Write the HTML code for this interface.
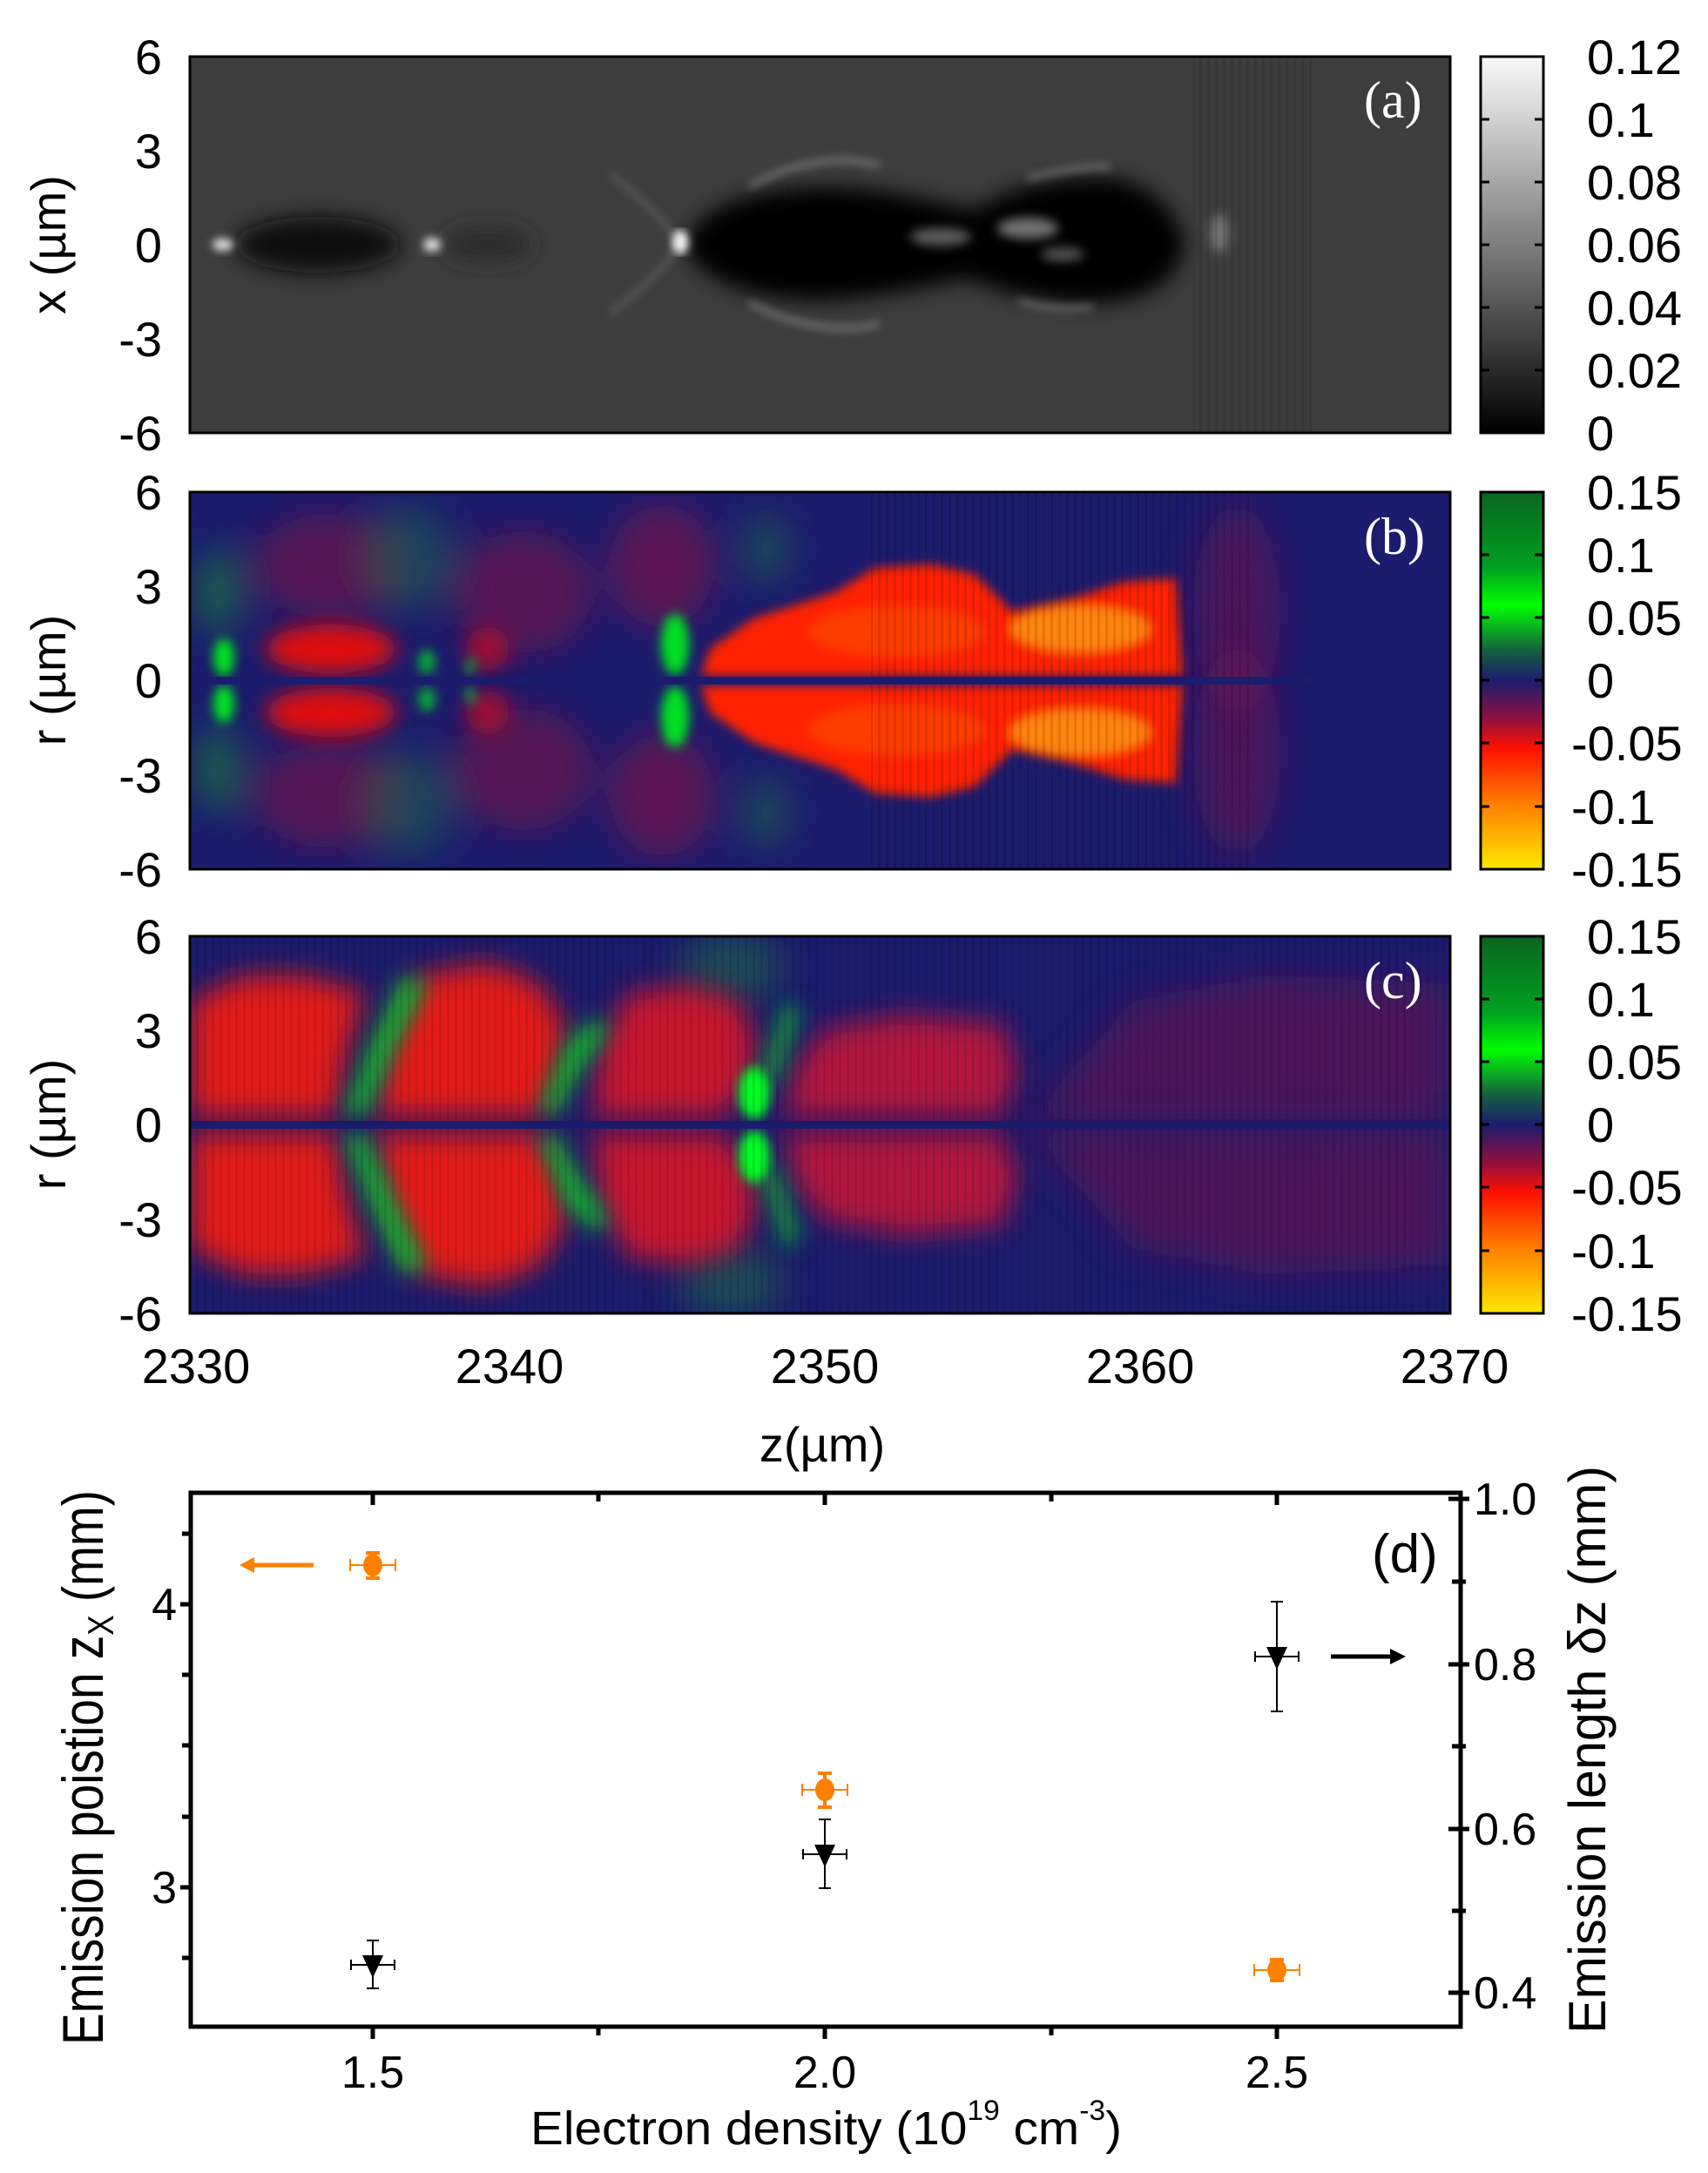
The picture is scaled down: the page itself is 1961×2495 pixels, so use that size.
<!DOCTYPE html>
<html><head><meta charset="utf-8"><style>
html,body{margin:0;padding:0;background:#fff;}
svg{display:block;}
text{font-family:"Liberation Sans",sans-serif;}
text.serif{font-family:"Liberation Serif",serif;}
</style></head><body>
<svg width="1961" height="2495" viewBox="0 0 1961 2495" xmlns="http://www.w3.org/2000/svg">
<defs>
  <filter id="b6" x="-20%" y="-20%" width="140%" height="140%"><feGaussianBlur stdDeviation="6"/></filter>
  <filter id="b12" x="-30%" y="-30%" width="160%" height="160%"><feGaussianBlur stdDeviation="12"/></filter>
  <filter id="b16" x="-30%" y="-30%" width="160%" height="160%"><feGaussianBlur stdDeviation="16"/></filter>
  <filter id="b20" x="-30%" y="-30%" width="160%" height="160%"><feGaussianBlur stdDeviation="20"/></filter>
  <filter id="b3"><feGaussianBlur stdDeviation="3"/></filter>
  <filter id="b5"><feGaussianBlur stdDeviation="5"/></filter>
  <clipPath id="ca"><rect x="218" y="65" width="1447" height="432"/></clipPath>
  <clipPath id="cb"><rect x="218" y="565" width="1447" height="433"/></clipPath>
  <clipPath id="cc"><rect x="218" y="1075" width="1447" height="433"/></clipPath>
  <linearGradient id="gg" x1="0" y1="0" x2="0" y2="1">
    <stop offset="0" stop-color="#fafafa"/><stop offset="1" stop-color="#000"/>
  </linearGradient>
  <linearGradient id="gc" x1="0" y1="0" x2="0" y2="1">
    <stop offset="0" stop-color="#0a6420"/>
    <stop offset="0.2" stop-color="#00a020"/>
    <stop offset="0.3" stop-color="#00ff00"/>
    <stop offset="0.42" stop-color="#156040"/>
    <stop offset="0.5" stop-color="#1c1c6e"/>
    <stop offset="0.6" stop-color="#901040"/>
    <stop offset="0.68" stop-color="#ff1000"/>
    <stop offset="0.83" stop-color="#ff8000"/>
    <stop offset="1" stop-color="#ffe800"/>
  </linearGradient>
  <pattern id="stripes" width="9" height="10" patternUnits="userSpaceOnUse">
    <rect x="0" y="0" width="3" height="10" fill="#000" opacity="0.18"/>
  </pattern>
</defs>

<!-- ============ Panel a ============ -->
<g clip-path="url(#ca)">
  <rect x="218" y="65" width="1447" height="432" fill="#3d3d3d"/>
  <g filter="url(#b12)">
    <ellipse cx="365" cy="281" rx="95" ry="32" fill="#101010"/>
    <ellipse cx="560" cy="281" rx="50" ry="18" fill="#2a2a2a"/>
    <path d="M785,281 C800,240 860,215 950,215 C1020,215 1080,235 1120,240 C1160,215 1220,200 1280,205 C1330,215 1355,250 1360,281 C1355,320 1320,345 1260,348 C1200,350 1150,335 1110,320 C1060,330 990,345 930,345 C860,342 800,320 785,281 Z" fill="#050505"/>
  </g>
  <g filter="url(#b6)" fill="#d0d0d0">
    <ellipse cx="1080" cy="272" rx="35" ry="10" opacity="0.45"/>
    <ellipse cx="1180" cy="262" rx="35" ry="12" opacity="0.55"/>
    <ellipse cx="1220" cy="292" rx="25" ry="8" opacity="0.4"/>
    <ellipse cx="1400" cy="268" rx="10" ry="22" opacity="0.4"/>
  </g>
  <g filter="url(#b5)" fill="#fff">
    <ellipse cx="256" cy="281" rx="12" ry="7" opacity="0.85"/>
    <ellipse cx="496" cy="281" rx="10" ry="8" opacity="0.85"/>
    <ellipse cx="781" cy="278" rx="9" ry="14"/>
  </g>
  <g fill="none" stroke="#bfbfbf" stroke-width="5" filter="url(#b5)" opacity="0.55">
    <path d="M860,215 C900,190 960,175 1010,190"/>
    <path d="M860,347 C900,370 960,385 1010,372"/>
    <path d="M1180,205 C1220,195 1250,190 1275,192"/>
    <path d="M1170,345 C1200,355 1230,355 1255,352"/>
    <path d="M700,200 C740,230 770,260 781,281 C770,300 740,330 700,360" opacity="0.5"/>
  </g>
  <rect x="1370" y="65" width="140" height="432" fill="url(#stripes)" opacity="0.5"/>
</g>
<rect x="218" y="65" width="1447" height="432" fill="none" stroke="#000" stroke-width="3"/>

<!-- ============ Panel b ============ -->
<g clip-path="url(#cb)">
  <rect x="218" y="565" width="1447" height="433" fill="#1c1c6e"/>
  <g id="bhalf">
    <g filter="url(#b20)">
      <ellipse cx="380" cy="650" rx="90" ry="60" fill="#7a1440" opacity="0.6"/>
      <ellipse cx="600" cy="680" rx="80" ry="70" fill="#7a1440" opacity="0.6"/>
      <ellipse cx="760" cy="650" rx="60" ry="70" fill="#881040" opacity="0.6"/>
      <ellipse cx="250" cy="680" rx="25" ry="50" fill="#1a7a3a" opacity="0.7"/>
      <ellipse cx="470" cy="640" rx="50" ry="60" fill="#1a6a4a" opacity="0.5"/>
      <ellipse cx="880" cy="630" rx="25" ry="40" fill="#1a6a4a" opacity="0.6"/>
      <ellipse cx="1420" cy="700" rx="50" ry="120" fill="#6a1450" opacity="0.6"/>
    </g>
    <g filter="url(#b12)">
      <ellipse cx="380" cy="745" rx="75" ry="28" fill="#e01010"/>
      <ellipse cx="560" cy="745" rx="25" ry="25" fill="#a01030"/>
    </g>
    <g filter="url(#b6)">
      <path d="M805,776 L815,745 L866,710 L959,680 L1005,652 L1070,648 L1120,660 L1162,702 L1237,685 L1292,668 L1350,664 L1358,776 Z" fill="#ff2200"/>
      <ellipse cx="1240" cy="722" rx="80" ry="26" fill="#ff8410"/>
      <ellipse cx="1030" cy="725" rx="100" ry="28" fill="#ff4a00" opacity="0.7"/>
    </g>
    <g filter="url(#b6)" fill="#00e020">
      <ellipse cx="257" cy="755" rx="12" ry="22"/>
      <ellipse cx="775" cy="740" rx="16" ry="35"/>
      <ellipse cx="490" cy="760" rx="10" ry="14" opacity="0.7"/>
      <ellipse cx="540" cy="765" rx="6" ry="10" opacity="0.6"/>
    </g>
  </g>
  <use href="#bhalf" transform="translate(0,1563) scale(1,-1)"/>
  <rect x="1000" y="565" width="440" height="433" fill="url(#stripes)" opacity="0.6"/>
  <rect x="218" y="777" width="1447" height="9" fill="#1c1c6e"/>
</g>
<rect x="218" y="565" width="1447" height="433" fill="none" stroke="#000" stroke-width="3"/>

<!-- ============ Panel c ============ -->
<g clip-path="url(#cc)">
  <rect x="218" y="1075" width="1447" height="433" fill="#1c1c6e"/>
  <g id="chalf">
    <g filter="url(#b20)">
      <path d="M1180,1285 L1300,1150 L1450,1120 L1665,1130 L1665,1285 Z" fill="#6a1450" opacity="0.6"/>
      <ellipse cx="840" cy="1110" rx="60" ry="40" fill="#1a6a4a" opacity="0.6"/>
    </g>
    <g filter="url(#b16)" opacity="0.88">
      <path d="M218,1150 L280,1120 L350,1120 L420,1140 L400,1200 L385,1282 L218,1282 Z" fill="#ff1a10"/>
      <path d="M480,1120 L560,1105 L620,1130 L650,1180 L640,1240 L620,1282 L430,1282 L445,1200 Z" fill="#ff1a10"/>
      <path d="M720,1140 L790,1130 L850,1150 L870,1200 L855,1250 L830,1282 L680,1282 L690,1200 Z" fill="#e01828"/>
      <path d="M950,1180 L1040,1165 L1150,1175 L1170,1230 L1150,1282 L900,1282 L915,1220 Z" fill="#c81838"/>
    </g>
    <g filter="url(#b12)" fill="#0cb030">
      <path d="M462,1120 L490,1130 L455,1200 L420,1280 L395,1280 L425,1200 Z"/>
      <path d="M680,1170 L700,1180 L660,1240 L640,1280 L620,1275 L650,1200 Z"/>
      <path d="M900,1150 L920,1160 L900,1220 L890,1250 L875,1230 Z" opacity="0.8"/>
    </g>
    <g filter="url(#b6)" fill="#00ff20">
      <ellipse cx="866" cy="1255" rx="18" ry="30"/>
    </g>
  </g>
  <use href="#chalf" transform="translate(0,2583) scale(1,-1)"/>
  <rect x="218" y="1075" width="1447" height="433" fill="url(#stripes)" opacity="0.5"/>
  <rect x="218" y="1287" width="1447" height="9" fill="#1c1c6e"/>
</g>
<rect x="218" y="1075" width="1447" height="433" fill="none" stroke="#000" stroke-width="3"/>

<!-- panel labels -->
<g font-size="60" fill="#fff">
  <text class="serif" x="1566" y="135">(a)</text>
  <text class="serif" x="1566" y="636">(b)</text>
  <text class="serif" x="1566" y="1146">(c)</text>
</g>

<!-- colorbars -->
<rect x="1700" y="65" width="72" height="432" fill="url(#gg)" stroke="#000" stroke-width="3"/>
<rect x="1700" y="565" width="72" height="433" fill="url(#gc)" stroke="#000" stroke-width="3"/>
<rect x="1700" y="1075" width="72" height="433" fill="url(#gc)" stroke="#000" stroke-width="3"/>
<g stroke="#000" stroke-width="3">
  <path d="M1700,137h10M1762,137h10M1700,209h10M1762,209h10M1700,281h10M1762,281h10M1700,353h10M1762,353h10M1700,425h10M1762,425h10"/>
  <path d="M1700,637h10M1762,637h10M1700,709h10M1762,709h10M1700,781h10M1762,781h10M1700,853h10M1762,853h10M1700,926h10M1762,926h10"/>
  <path d="M1700,1147h10M1762,1147h10M1700,1219h10M1762,1219h10M1700,1291h10M1762,1291h10M1700,1363h10M1762,1363h10M1700,1436h10M1762,1436h10"/>
</g>
<g font-size="56" fill="#000">
  <text x="1822" y="85">0.12</text>
  <text x="1822" y="157">0.1</text>
  <text x="1822" y="229">0.08</text>
  <text x="1822" y="301">0.06</text>
  <text x="1822" y="373">0.04</text>
  <text x="1822" y="445">0.02</text>
  <text x="1822" y="517">0</text>

  <text x="1822" y="585">0.15</text>
  <text x="1822" y="657">0.1</text>
  <text x="1822" y="729">0.05</text>
  <text x="1822" y="801">0</text>
  <text x="1804" y="873">-0.05</text>
  <text x="1804" y="946">-0.1</text>
  <text x="1804" y="1018">-0.15</text>

  <text x="1822" y="1095">0.15</text>
  <text x="1822" y="1167">0.1</text>
  <text x="1822" y="1239">0.05</text>
  <text x="1822" y="1311">0</text>
  <text x="1804" y="1383">-0.05</text>
  <text x="1804" y="1456">-0.1</text>
  <text x="1804" y="1528">-0.15</text>
</g>

<!-- left ticks a-c -->
<g font-size="56" fill="#000" text-anchor="end">
  <text x="186" y="85">6</text><text x="186" y="193">3</text><text x="186" y="301">0</text><text x="186" y="409">-3</text><text x="186" y="517">-6</text>
  <text x="186" y="585">6</text><text x="186" y="693">3</text><text x="186" y="801">0</text><text x="186" y="910">-3</text><text x="186" y="1018">-6</text>
  <text x="186" y="1095">6</text><text x="186" y="1203">3</text><text x="186" y="1311">0</text><text x="186" y="1420">-3</text><text x="186" y="1528">-6</text>
</g>
<g font-size="56" fill="#000" text-anchor="middle">
  <text x="225" y="1588">2330</text>
  <text x="585" y="1588">2340</text>
  <text x="947" y="1588">2350</text>
  <text x="1309" y="1588">2360</text>
  <text x="1670" y="1588">2370</text>
  <text x="944" y="1678">z(µm)</text>
  <text transform="translate(75,281) rotate(-90)">x (µm)</text>
  <text transform="translate(75,781) rotate(-90)">r (µm)</text>
  <text transform="translate(75,1291) rotate(-90)">r (µm)</text>
</g>

<!-- ============ Panel d ============ -->
<rect x="219" y="1714" width="1458" height="613" fill="none" stroke="#000" stroke-width="5"/>
<g stroke="#000" stroke-width="5">
  <path d="M207,1842h12M207,2167h12M209,1761h10M209,2004h10M209,2086h10M209,2248h10M209,1923h10"/>
  <path d="M428,2327v14M947,2327v14M1466,2327v14M687,2327v10M1207,2327v10"/>
  <path d="M428,1714v14M947,1714v14M1466,1714v14M687,1714v10M1207,1714v10"/>
  <path d="M1663,1721h24M1663,1911h24M1663,2100h24M1663,2288h24M1667,1816h16M1667,2005h16M1667,2194h16"/>
</g>
<g font-size="52" fill="#000">
  <text x="203" y="1860" text-anchor="end">4</text>
  <text x="203" y="2185" text-anchor="end">3</text>
  <text x="1692" y="1739">1.0</text>
  <text x="1692" y="1929">0.8</text>
  <text x="1692" y="2118">0.6</text>
  <text x="1692" y="2306">0.4</text>
  <text x="428" y="2397" text-anchor="middle">1.5</text>
  <text x="947" y="2397" text-anchor="middle">2.0</text>
  <text x="1466" y="2397" text-anchor="middle">2.5</text>
</g>
<text x="609" y="2462" font-size="54" textLength="679" lengthAdjust="spacingAndGlyphs">Electron density (10<tspan font-size="32" dy="-28">19</tspan><tspan dy="28"> cm</tspan><tspan font-size="32" dy="-28">-3</tspan><tspan dy="28">)</tspan></text>
<text transform="translate(118,2348) rotate(-90)" font-size="66" textLength="637" lengthAdjust="spacingAndGlyphs">Emission poistion z<tspan font-size="42" dy="12">X</tspan><tspan dy="-12"> (mm)</tspan></text>
<text transform="translate(1843,2335) rotate(-90)" font-size="60" textLength="652" lengthAdjust="spacingAndGlyphs">Emission length δz (mm)</text>
<text x="1575" y="1805" font-size="62">(d)</text>

<!-- arrows -->
<g stroke="#ff8000" stroke-width="5" fill="#ff8000">
  <line x1="290" y1="1797" x2="360" y2="1797"/>
  <path d="M275,1797 L292,1788 L292,1806 Z" stroke="none"/>
</g>
<g stroke="#000" stroke-width="5">
  <line x1="1528" y1="1902" x2="1598" y2="1902"/>
  <path d="M1614,1902 L1596,1893 L1596,1911 Z" stroke="none" fill="#000"/>
</g>

<!-- orange points -->
<g stroke="#ff8000" fill="#ff8000">
  <g stroke-width="2">
    <path d="M402,1797h52M402,1790v14M454,1790v14"/>
    <path d="M921,2055h52M921,2048v14M973,2048v14"/>
    <path d="M1440,2262h52M1440,2255v14M1492,2255v14"/>
  </g>
  <g stroke-width="4">
    <path d="M428,1783v29M420,1783h16M420,1812h16"/>
    <path d="M947,2036v39M939,2036h16M939,2075h16"/>
    <path d="M1466,2250v24M1458,2250h16M1458,2274h16"/>
  </g>
  <ellipse cx="428" cy="1797" rx="11" ry="13" stroke="none"/>
  <ellipse cx="947" cy="2055" rx="11" ry="13" stroke="none"/>
  <ellipse cx="1466" cy="2262" rx="11" ry="13" stroke="none"/>
</g>

<!-- black triangles -->
<g stroke="#000" stroke-width="2" fill="none">
  <path d="M428,2228v55M421,2228h14M421,2283h14M403,2256h50M403,2250v12M453,2250v12"/>
  <path d="M947,2089v79M940,2089h14M940,2168h14M922,2129h50M922,2123v12M972,2123v12"/>
  <path d="M1466,1839v126M1459,1839h14M1459,1965h14M1441,1902h50M1441,1896v12M1491,1896v12"/>
</g>
<g fill="#000">
  <path d="M416,2245 L440,2245 L428,2271 Z"/>
  <path d="M935,2118 L959,2118 L947,2144 Z"/>
  <path d="M1454,1891 L1478,1891 L1466,1917 Z"/>
</g>
</svg>
</body></html>
